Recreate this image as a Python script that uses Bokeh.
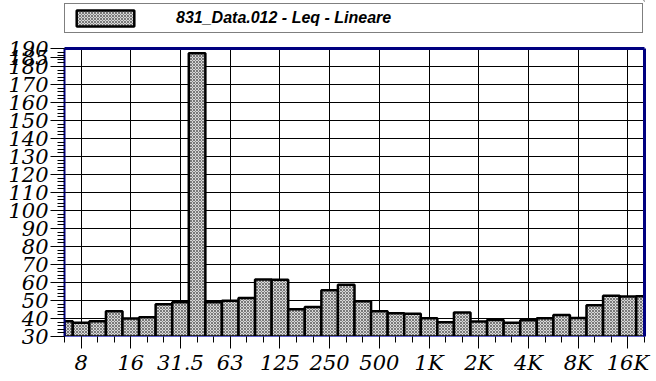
from bokeh.plotting import figure
from bokeh.layouts import column
from bokeh.models import Range1d, FixedTicker, Legend, LegendItem, LinearAxis
from bokeh.embed import file_html
from bokeh.resources import INLINE

# Third-octave band centre labels
bands = ["6.3", "8", "10", "12.5", "16", "20", "25", "31.5", "40", "50", "63", "80",
         "100", "125", "160", "200", "250", "315", "400", "500", "630", "800",
         "1K", "1.25K", "1.6K", "2K", "2.5K", "3.15K", "4K", "5K", "6.3K", "8K",
         "10K", "12.5K", "16K", "20K"]
# Leq (dB), linear weighting
leq = [38.5, 37.7, 38.5, 44.0, 40.0, 40.7, 47.9, 49.0, 187.3, 49.0, 49.9, 51.4,
       61.6, 61.5, 45.2, 46.4, 55.7, 58.8, 49.6, 44.0, 42.9, 42.6,
       40.2, 37.9, 43.3, 38.3, 39.2, 37.6, 39.0, 40.2, 41.9, 40.3,
       47.4, 52.7, 52.2, 52.3]
octave_labels = ["8", "16", "31.5", "63", "125", "250", "500", "1K", "2K", "4K", "8K", "16K"]
y_major = [30, 40, 50, 60, 70, 80, 90, 100, 110, 120, 130, 140, 150, 160, 170, 180, 190]
y_extra = [185]
y_minor = list(range(30, 191, 2))
legend_label = "831_Data.012 - Leq - Lineare"

idx = list(range(len(bands)))
oct_idx = [bands.index(b) for b in octave_labels]

SERIF = "DejaVu Serif"
SANS = "Liberation Sans"
NAVY = "#000080"
BAR = dict(fill_color="#d8d8d8", line_color="black", line_width=2.5,
           hatch_pattern="x", hatch_scale=3, hatch_weight=1, hatch_color="#787878")

# ---------- main chart ----------
p = figure(width=656, height=345, output_backend="svg", toolbar_location=None,
           x_range=Range1d(0, len(bands) - 1), y_range=Range1d(30, 190),
           min_border_left=64, min_border_right=12, min_border_top=12,
           min_border_bottom=45)
p.outline_line_color = None
p.background_fill_color = "white"

r = p.vbar(x=idx, top=leq, bottom=0, width=1.0, **BAR)

p.xaxis.ticker = FixedTicker(ticks=oct_idx, minor_ticks=idx)
p.xaxis.major_label_overrides = {i: b for i, b in zip(oct_idx, octave_labels)}
p.xaxis.axis_line_color = "#6464cc"
p.xaxis.axis_line_width = 1
p.xaxis.major_tick_out = 12
p.xaxis.major_tick_in = 0
p.xaxis.minor_tick_out = 6
p.xaxis.minor_tick_in = 0
p.xaxis.major_tick_line_color = "black"
p.xaxis.minor_tick_line_color = "black"
p.xaxis.major_label_standoff = 2
p.xaxis.major_label_text_font = SERIF
p.xaxis.major_label_text_font_style = "italic"
p.xaxis.major_label_text_font_size = "21px"
p.xaxis.major_label_text_color = "black"

p.yaxis.ticker = FixedTicker(ticks=y_major + y_extra, minor_ticks=y_minor)
p.yaxis.axis_line_color = NAVY
p.yaxis.axis_line_width = 2
p.yaxis.major_tick_out = 14
p.yaxis.major_tick_in = 0
p.yaxis.minor_tick_out = 7
p.yaxis.minor_tick_in = 0
p.yaxis.major_tick_line_color = "black"
p.yaxis.minor_tick_line_color = "black"
p.yaxis.major_label_standoff = 2
p.yaxis.major_label_text_font = SERIF
p.yaxis.major_label_text_font_style = "italic"
p.yaxis.major_label_text_font_size = "21px"
p.yaxis.major_label_text_color = "black"

# navy frame lines on the right and top
for side in ("right", "above"):
    ax = LinearAxis(ticker=FixedTicker(ticks=[]))
    ax.axis_line_color = NAVY
    ax.axis_line_width = 3
    ax.major_tick_line_color = None
    ax.minor_tick_line_color = None
    ax.major_label_text_font_size = "0px"
    p.add_layout(ax, side)

p.xgrid.ticker = FixedTicker(ticks=oct_idx)
p.ygrid.ticker = FixedTicker(ticks=y_major)
p.grid.grid_line_color = "black"
p.grid.grid_line_width = 1
p.grid.grid_line_alpha = 1

# ---------- legend strip ----------
lf = figure(width=656, height=36, output_backend="svg", toolbar_location=None,
            x_range=Range1d(0, 1), y_range=Range1d(0, 1),
            min_border_left=64, min_border_right=12, min_border_top=0,
            min_border_bottom=0, x_axis_type=None, y_axis_type=None)
lf.outline_line_color = None
lr = lf.vbar(x=[5], top=[5], bottom=[4], width=1.0, **BAR)
legend = Legend(items=[LegendItem(label=legend_label, renderers=[lr])],
                location=(0, 3), orientation="horizontal",
                glyph_width=72, glyph_height=20, label_standoff=35,
                label_width=462, padding=4, margin=0, spacing=0,
                border_line_color="black", border_line_width=1,
                background_fill_color="white", background_fill_alpha=1,
                label_text_font=SANS, label_text_font_style="bold italic",
                label_text_font_size="16px", label_text_color="black")
lf.add_layout(legend)

layout = column(lf, p, spacing=0)
open("out.html", "w").write(file_html(layout, INLINE))
